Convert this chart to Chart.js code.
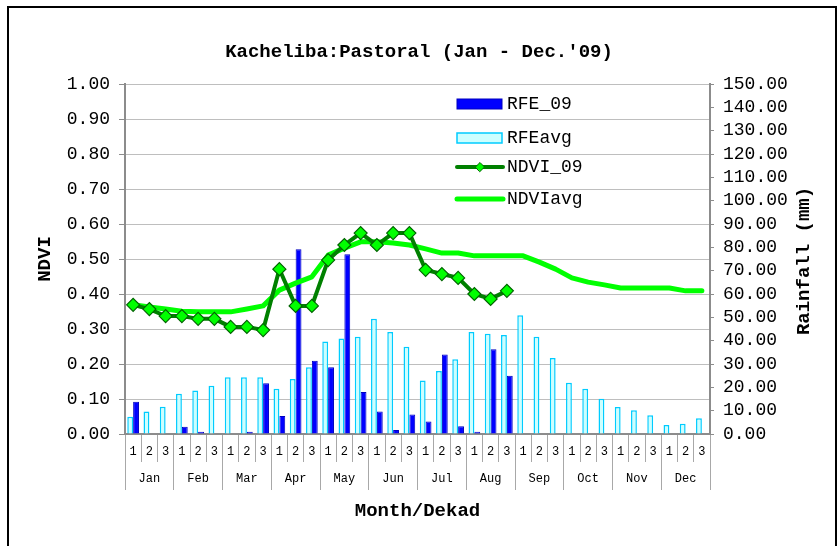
<!DOCTYPE html>
<html>
<head>
<meta charset="utf-8">
<script src="https://cdn.jsdelivr.net/npm/chart.js@4"></script>
<style>
html,body{margin:0;padding:0;background:#fff;overflow:hidden}
#wrap{position:relative;width:838px;height:546px}
canvas{position:absolute;left:0;top:0}
#frame{position:absolute;left:7px;top:6px;width:826px;height:600px;border:2px solid #000;border-bottom:none;pointer-events:none}
</style>
</head>
<body>
<div id="wrap">
<canvas id="c" width="838" height="546"></canvas>
<div id="frame"></div>
</div>
<script>
// ---- data ----
const chartTitle = "Kacheliba:Pastoral (Jan - Dec.'09)";
const dekads = ['1','2','3','1','2','3','1','2','3','1','2','3','1','2','3','1','2','3',
                '1','2','3','1','2','3','1','2','3','1','2','3','1','2','3','1','2','3'];
const months = ['Jan','Feb','Mar','Apr','May','Jun','Jul','Aug','Sep','Oct','Nov','Dec'];

// Rainfall (mm), right axis
const rfe09 = [13.8, 0, 0, 3.1, 1.0, 0, 0, 1.0, 21.7, 7.7, 79.2, 31.4,
               28.6, 77.0, 18.0, 9.6, 1.7, 8.4, 5.4, 34.1, 3.3, 1.0, 36.3, 25.0,
               null, null, null, null, null, null, null, null, null, null, null, null];
const rfeAvg = [7.4, 9.6, 11.7, 17.3, 18.6, 20.7, 24.3, 24.3, 24.3, 19.4, 23.6, 28.6,
                39.6, 40.9, 41.7, 49.4, 43.7, 37.4, 22.9, 27.0, 32.0, 43.7, 43.0, 42.4,
                50.9, 41.7, 32.6, 22.0, 19.4, 15.1, 11.6, 10.2, 8.0, 3.9, 4.4, 6.7];

// NDVI, left axis
const ndvi09 = [0.369, 0.357, 0.337, 0.337, 0.329, 0.329, 0.306, 0.306, 0.297, 0.471, 0.366, 0.366,
                0.497, 0.540, 0.574, 0.540, 0.574, 0.574, 0.469, 0.457, 0.446, 0.400, 0.386, 0.409,
                null, null, null, null, null, null, null, null, null, null, null, null];
const ndviAvg = [0.369, 0.363, 0.357, 0.351, 0.349, 0.349, 0.349, 0.357, 0.366, 0.411, 0.431, 0.449,
                 0.511, 0.531, 0.549, 0.549, 0.546, 0.540, 0.529, 0.517, 0.517, 0.509, 0.509, 0.509,
                 0.509, 0.491, 0.471, 0.446, 0.434, 0.426, 0.417, 0.417, 0.417, 0.417, 0.409, 0.409];

const FONT = "'Liberation Mono', 'Courier New', monospace";

const legendAndTitlePlugin = {
  id: 'customLegend',
  afterDraw(chart) {
    const ctx = chart.ctx;
    const ds = chart.data.datasets;
    ctx.save();
    ctx.font = '18px ' + FONT;
    ctx.fillStyle = '#000';
    ctx.textBaseline = 'middle';
    ctx.textAlign = 'left';
    const x0 = 457, w = 45, tx = 507;
    const rows = [104, 138, 167, 199];
    // bar swatches
    [0, 1].forEach((k) => {
      const d = ds[k];
      ctx.fillStyle = d.backgroundColor;
      ctx.fillRect(x0, rows[k] - 5, w, 10);
      ctx.strokeStyle = d.borderColor;
      ctx.lineWidth = d.borderWidth;
      ctx.strokeRect(x0, rows[k] - 5, w, 10);
    });
    // line swatches
    [2, 3].forEach((k) => {
      const d = ds[k];
      ctx.strokeStyle = d.borderColor;
      ctx.lineWidth = d.borderWidth;
      ctx.lineCap = 'round';
      ctx.beginPath();
      ctx.moveTo(x0, rows[k]);
      ctx.lineTo(x0 + w + 1, rows[k]);
      ctx.stroke();
      if (d.pointRadius > 0) {
        const cx = x0 + 23, cy = rows[k], r = 4.5;
        ctx.beginPath();
        ctx.moveTo(cx - r, cy); ctx.lineTo(cx, cy - r); ctx.lineTo(cx + r, cy); ctx.lineTo(cx, cy + r);
        ctx.closePath();
        ctx.fillStyle = d.pointBackgroundColor;
        ctx.fill();
        ctx.strokeStyle = d.pointBorderColor;
        ctx.lineWidth = 1;
        ctx.stroke();
      }
    });
    ctx.fillStyle = '#000';
    ds.forEach((d, k) => { ctx.fillText(d.label, tx, rows[k]); });
    // right axis title (reads bottom-to-top)
    ctx.font = 'bold 19px ' + FONT;
    ctx.textAlign = 'center';
    ctx.translate(804, 261);
    ctx.rotate(-Math.PI / 2);
    ctx.fillText('Rainfall (mm)', 0, 0);
    ctx.restore();
  }
};

new Chart(document.getElementById('c'), {
  type: 'bar',
  data: {
    labels: dekads,
    datasets: [
      { label: 'RFE_09', data: rfe09, yAxisID: 'y1', order: 4,
        backgroundColor: '#0000FF', borderColor: '#0000C0', borderWidth: 1,
        categoryPercentage: 0.72, barPercentage: 1.0 },
      { label: 'RFEavg', data: rfeAvg, yAxisID: 'y1', order: 3,
        backgroundColor: '#CCFFFF', borderColor: '#00CCFF', borderWidth: 1.5,
        categoryPercentage: 0.72, barPercentage: 1.0 },
      { type: 'line', label: 'NDVI_09', data: ndvi09, yAxisID: 'y', order: 1,
        borderColor: '#008000', borderWidth: 4, tension: 0,
        pointStyle: 'rectRot', pointRadius: 6.5, pointBackgroundColor: '#00FF00',
        pointBorderColor: '#006400', pointBorderWidth: 1.2, spanGaps: false },
      { type: 'line', label: 'NDVIavg', data: ndviAvg, yAxisID: 'y', order: 2,
        borderColor: '#00FF00', borderWidth: 5, tension: 0, pointRadius: 0,
        borderJoinStyle: 'round', borderCapStyle: 'round' }
    ]
  },
  options: {
    responsive: false,
    animation: false,
    devicePixelRatio: 1,
    layout: { padding: 0 },
    plugins: {
      legend: { display: false },
      tooltip: { enabled: false },
      title: {
        display: true, text: chartTitle, color: '#000',
        font: { family: FONT, size: 19, weight: 'bold', lineHeight: 1.2 },
        padding: { top: 40.6, bottom: 20.6 }
      }
    },
    scales: {
      x: {
        type: 'category', position: 'bottom', weight: 0, offset: true,
        grid: { offset: true, drawOnChartArea: false, tickLength: 28, color: '#A8A8A8', lineWidth: 1 },
        border: { display: true, color: '#8C8C8C', width: 2 },
        ticks: { font: { family: FONT, size: 12 }, color: '#000', padding: -17, autoSkip: false, maxRotation: 0 },
        afterFit: (s) => { s.height = 28; }
      },
      x2: {
        type: 'category', labels: months, position: 'bottom', weight: 1, offset: true,
        grid: { offset: true, drawOnChartArea: false, tickLength: 28, color: '#A8A8A8', lineWidth: 1 },
        border: { display: false },
        ticks: { font: { family: FONT, size: 12 }, color: '#000', padding: -18, autoSkip: false, maxRotation: 0 },
        title: { display: true, text: 'Month/Dekad', color: '#000',
                 font: { family: FONT, size: 19, weight: 'bold', lineHeight: 1.2 },
                 padding: { top: 0, bottom: 23.6 } },
        afterFit: (s) => { s.height = 84; }
      },
      y: {
        position: 'left', min: 0, max: 1,
        ticks: { stepSize: 0.1, autoSkip: false, callback: (v) => Number(v).toFixed(2),
                 font: { family: FONT, size: 18 }, color: '#000', padding: 9 },
        grid: { color: '#BEBEBE', lineWidth: 1, tickColor: '#8C8C8C', tickLength: 6 },
        border: { color: '#8C8C8C', width: 2 },
        title: { display: true, text: 'NDVI', color: '#000',
                 font: { family: FONT, size: 19, weight: 'bold', lineHeight: 1.2 },
                 padding: { top: 34, bottom: 0 } },
        afterFit: (s) => { s.width = 125; }
      },
      y1: {
        position: 'right', min: 0, max: 150,
        ticks: { stepSize: 10, autoSkip: false, callback: (v) => Number(v).toFixed(2),
                 font: { family: FONT, size: 18 }, color: '#000', padding: 9 },
        grid: { drawOnChartArea: false, tickColor: '#8C8C8C', tickLength: 4 },
        border: { color: '#8C8C8C', width: 2 },
        afterFit: (s) => { s.width = 128; }
      }
    }
  },
  plugins: [legendAndTitlePlugin]
});
</script>
</body>
</html>
